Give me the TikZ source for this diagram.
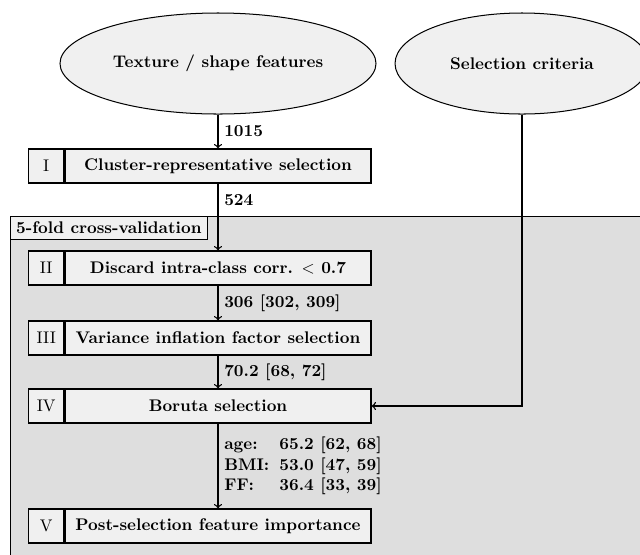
\documentclass[tikz,border=0pt]{standalone}
\usetikzlibrary{positioning,shapes.geometric}
\definecolor{boxgray}{gray}{0.94}
\definecolor{cvgray}{gray}{0.87}
\begin{document}
\begin{tikzpicture}[x=0.593pt, y=-0.593pt, every node/.style={font=\bfseries},
    source/.style={draw, semithick, ellipse, fill=boxgray, minimum height=59.9pt},
    stepname/.style={draw, line width=0.7pt, fill=boxgray, minimum width=181.5pt, minimum height=20.2pt},
    stepnum/.style={draw, line width=0.7pt, fill=boxgray, minimum width=20.8pt, minimum height=20.2pt, font=\normalfont},
    flow/.style={->, thick}]
    \useasboundingbox (0,0) rectangle (640,554);
    \clip (0,0) rectangle (640,554);

    \node[draw, semithick, fill=cvgray, anchor=north west, minimum width=400pt, minimum height=220pt] (cv) at (10,216) {};
    \node[draw, semithick, fill=boxgray, anchor=north west] (cvlabel) at (cv.north west) {5-fold cross-validation};

    \node[source, minimum width=187.4pt] (feat) at (218,63.5) {Texture / shape features};
    \node[source, minimum width=150.6pt] (crit) at (522,63.5) {Selection criteria};

    \node[stepname] (s1) at (218,166) {Cluster-representative selection};
    \node[stepnum, left=0pt of s1] (n1) {I};
    \node[stepname] (s2) at (218,268) {Discard intra-class corr. $<$ 0.7};
    \node[stepnum, left=0pt of s2] (n2) {II};
    \node[stepname] (s3) at (218,338) {Variance inflation factor selection};
    \node[stepnum, left=0pt of s3] (n3) {III};
    \node[stepname] (s4) at (218,406) {Boruta selection};
    \node[stepnum, left=0pt of s4] (n4) {IV};
    \node[stepname] (s5) at (218,526) {Post-selection feature importance};
    \node[stepnum, left=0pt of s5] (n5) {V};

    \draw[flow] (feat) -- node[right] {1015} (s1);
    \draw[flow] (s1) -- node[pos=0.25, right] {524} (s2);
    \draw[flow] (s2) -- node[right] {306 [302, 309]} (s3);
    \draw[flow] (s3) -- node[right] {70.2 [68, 72]} (s4);
    \draw[flow] (s4) -- node[right] {\begin{tabular}{@{}l@{\hspace{6pt}}l@{}}
        age: & 65.2 [62, 68]\\
        BMI: & 53.0 [47, 59]\\
        FF:  & 36.4 [33, 39]
    \end{tabular}} (s5);
    \draw[flow] (crit) |- (s4);
\end{tikzpicture}
\end{document}
